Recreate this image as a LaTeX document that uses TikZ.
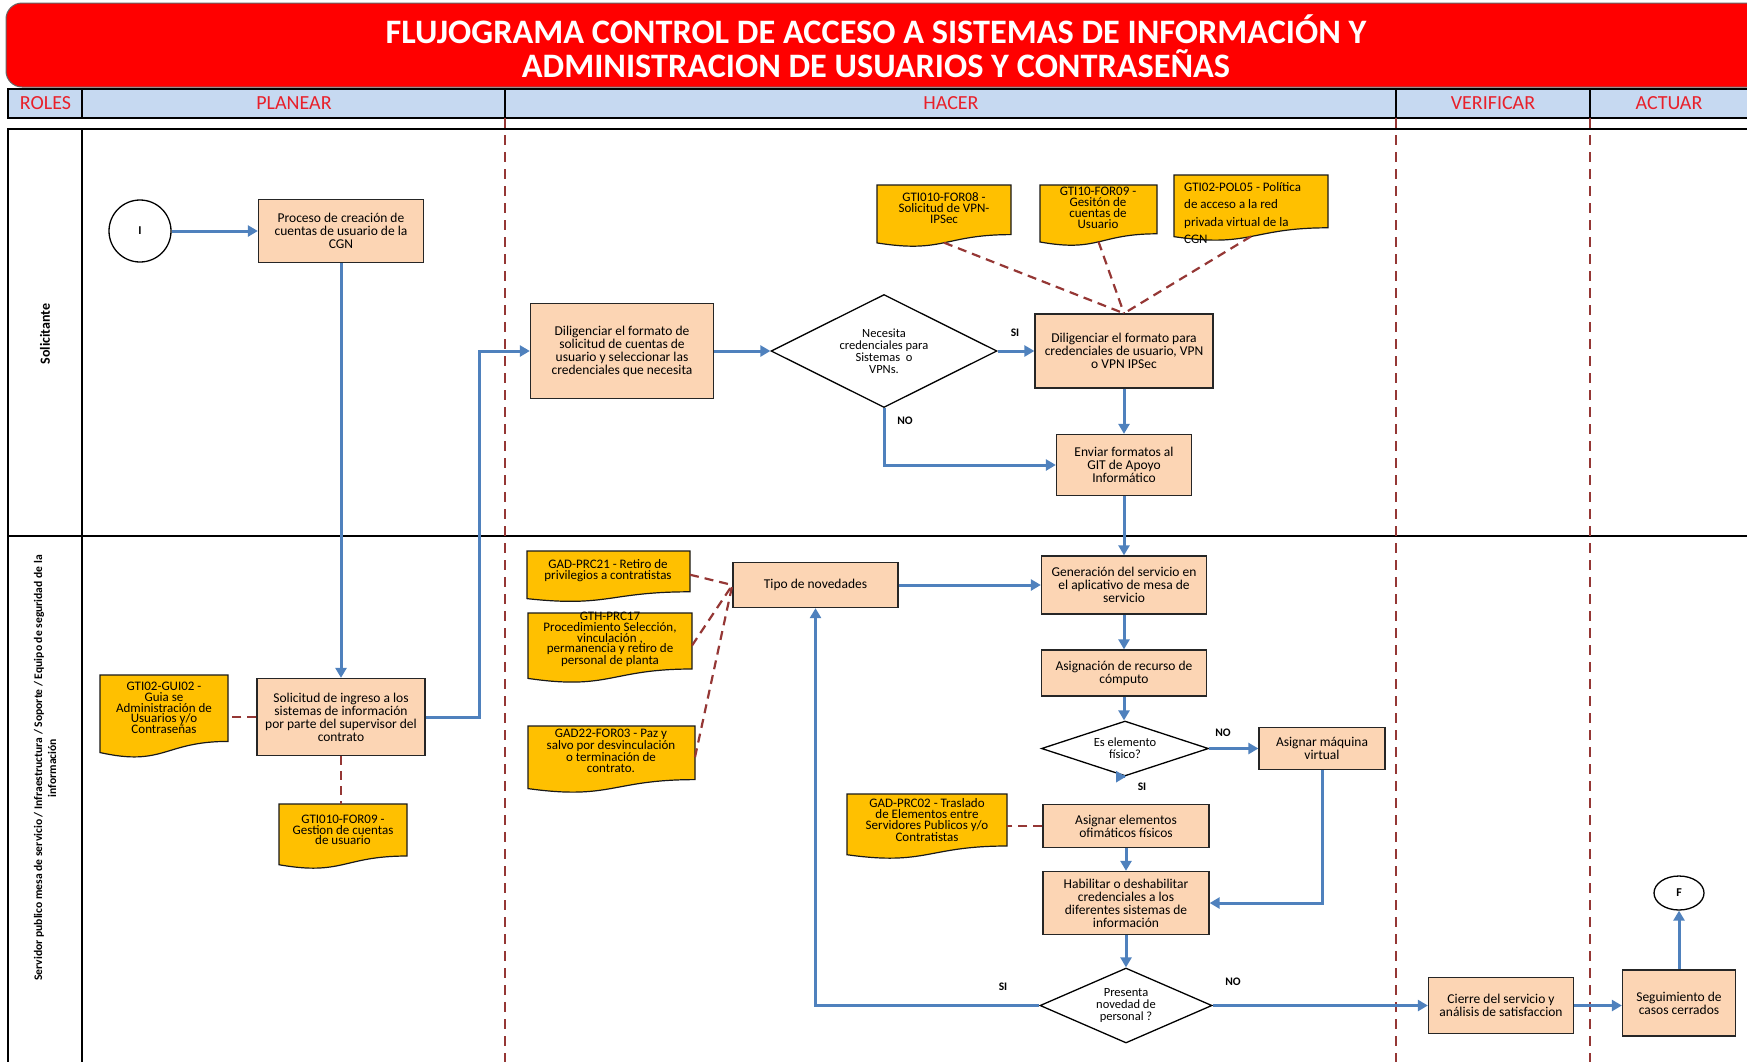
\documentclass[tikz,border=0pt]{standalone}
\usepackage{fontspec}
\setmainfont{Carlito}
\usetikzlibrary{arrows.meta,shapes.geometric}

\definecolor{peach}{HTML}{FCD5B4}
\definecolor{docyel}{HTML}{FFC000}
\definecolor{flowblue}{HTML}{4F81BD}
\definecolor{dred}{HTML}{953735}
\definecolor{hdrblue}{HTML}{C6D9F1}
\definecolor{titlered}{HTML}{FF0000}
\definecolor{hdrtext}{HTML}{E8202A}

\tikzset{
  procbox/.style={draw=black!85, line width=1.3pt, fill=peach, align=center,
    font=\fontsize{13.5}{13}\selectfont, inner sep=1pt},
  decision/.style={diamond, draw=black, line width=1.3pt, fill=white, align=center,
    inner sep=0pt, font=\fontsize{12.5}{12}\selectfont},
  flow/.style={draw=flowblue, line width=3pt, -{Triangle[length=10pt,width=11pt]}},
  link/.style={draw=dred, line width=2.2pt, dash pattern=on 9pt off 6pt},
  phase/.style={draw=dred, line width=2pt, dash pattern=on 10pt off 7pt},
  docfill/.style={fill=docyel, draw=black!90, line width=1.2pt},
  doctext/.style={align=center, font=\fontsize{13}{10.8}\selectfont, inner sep=0pt},
  lbl/.style={font=\bfseries\fontsize{11.5}{12}\selectfont, inner sep=0pt},
  hdr/.style={text=hdrtext, font=\fontsize{20}{22}\selectfont, inner sep=0pt},
  terminal/.style={draw=black, line width=1.3pt, fill=white, font=\bfseries\fontsize{12}{12}\selectfont},
}

% #1 name, #2 x0, #3 y0, #4 x1, #5 y1
\newcommand{\DocShape}[5]{%
  \path[docfill] (#2,#3) -- (#4,#3) -- (#4,{#3+0.8*(#5-#3)})
    .. controls ({0.5*(#2+#4)},{#3+0.8*(#5-#3)}) and ({0.5*(#2+#4)},{#3+1.107*(#5-#3)})
    .. (#2,{#3+0.934*(#5-#3)}) -- cycle;
  \node[inner sep=0pt, outer sep=0pt, minimum width={#4-#2},
    minimum height={0.93*(#5-#3)}, anchor=north west] (#1) at (#2,#3) {};
}

\begin{document}
\begin{tikzpicture}[x=1pt,y=-1pt]
\useasboundingbox (0,0) rectangle (1747,1061);

% ---------- title ----------
\filldraw[fill=titlered, draw=black!60, line width=1pt, rounded corners=16pt] (6,3) rectangle (1780,87);
\node[text=white, align=center, font=\bfseries\fontsize{34.3}{34.5}\selectfont] (title) at (876,46)
  {FLUJOGRAMA CONTROL DE ACCESO A SISTEMAS DE INFORMACIÓN Y\\ADMINISTRACION DE USUARIOS Y CONTRASEÑAS};

% ---------- header ----------
\fill[hdrblue] (8,89) rectangle (1760,118);
\draw[line width=1.6pt] (1760,89) -- (8,89) -- (8,118) -- (1760,118);
\foreach \x in {82,505,1396,1590} \draw[line width=1.3pt] (\x,89) -- (\x,118);
\node[hdr] (hRoles) at (45.5,103.5) {ROLES};
\node[hdr] (hPlan) at (294,103.5) {PLANEAR};
\node[hdr] (hHacer) at (951,103.5) {HACER};
\node[hdr] (hVer) at (1493,103.5) {VERIFICAR};
\node[hdr] (hAct) at (1669,103.5) {ACTUAR};

% ---------- lanes ----------
\draw[line width=2pt] (1760,129) -- (8,129) -- (8,1075);
\draw[line width=2pt] (82,129) -- (82,1075);
\draw[line width=2pt] (8,536) -- (1760,536);
\foreach \x in {505,1396,1590} \draw[phase] (\x,118) -- (\x,1075);

\node[rotate=90, font=\bfseries\fontsize{14}{14}\selectfont] (role1) at (45,334) {Solicitante};
\node[rotate=90, align=center, font=\bfseries\fontsize{11.6}{14}\selectfont] (role2) at (45,768)
  {Servidor publico mesa de servicio / Infraestructura / Soporte / Equipo de seguridad de la\\información};

% ---------- documents ----------
\DocShape{dFORa}{877}{185}{1011}{247}
\node[doctext] (tFORa) at (944,208) {GTI010-FOR08 -\\Solicitud de VPN-\\IPSec};
\DocShape{dFORb}{1040}{185}{1157}{246}
\node[doctext] (tFORb) at (1098,208) {GTI10-FOR09 -\\Gesitón de\\cuentas de\\Usuario};
\DocShape{dPOL}{1174}{175}{1328}{241}
\node[doctext, align=left, anchor=west, font=\fontsize{13}{17.5}\selectfont] (tPOL) at (1184,213)
  {GTI02-POL05 - Política\\de acceso a la red\\privada virtual de la\\CGN};
\DocShape{dPRCa}{527}{551}{690}{602}
\node[doctext] (tPRCa) at (608,570.5) {GAD-PRC21 - Retiro de\\privilegios a contratistas};
\DocShape{dPRCb}{528}{613}{692}{683}
\node[doctext] (tPRCb) at (610,639.5) {GTH-PRC17\\Procedimiento Selección,\\vinculación ,\\permanencia y retiro de\\personal de planta};
\DocShape{dFORc}{528}{726}{695}{793}
\node[doctext] (tFORc) at (611,751) {GAD22-FOR03 - Paz y\\salvo por desvinculación\\o terminación de\\contrato.};
\DocShape{dGUI}{100}{675}{228}{758}
\node[doctext] (tGUI) at (164,708) {GTI02-GUI02 -\\Guia se\\Administración de\\Usuarios y/o\\Contraseñas};
\DocShape{dFORd}{279}{804}{407}{869}
\node[doctext] (tFORd) at (343,830) {GTI010-FOR09 -\\Gestion de cuentas\\de usuario};
\DocShape{dPRCc}{847}{794}{1007}{859}
\node[doctext] (tPRCc) at (927,820) {GAD-PRC02 - Traslado\\de Elementos entre\\Servidores Publicos y/o\\Contratistas};

% ---------- process nodes ----------
\node[terminal, circle, minimum size=62pt] (ini) at (140,231) {I};
\node[procbox, minimum width=165pt, minimum height=63pt] (proc) at (341,231)
  {Proceso de creación de\\cuentas de usuario de la\\CGN};
\node[procbox, minimum width=168pt, minimum height=77pt] (solic) at (341,717)
  {Solicitud de ingreso a los\\sistemas de información\\por parte del supervisor del\\contrato};
\node[procbox, minimum width=183pt, minimum height=95pt] (dilig) at (622,351)
  {Diligenciar el formato de\\solicitud de cuentas de\\usuario y seleccionar las\\credenciales que necesita};
\node[decision, aspect=2, minimum width=226pt, minimum height=113pt] (nec) at (884,351)
  {Necesita\\credenciales para\\Sistemas~ o\\VPNs.};
\node[procbox, minimum width=178pt, minimum height=74pt] (para) at (1124,351)
  {Diligenciar el formato para\\credenciales de usuario, VPN\\o VPN IPSec};
\node[procbox, minimum width=135pt, minimum height=61pt] (env) at (1124,465)
  {Enviar formatos al\\GIT de Apoyo\\Informático};
\node[procbox, minimum width=165pt, minimum height=45pt] (tipo) at (815.5,585)
  {Tipo de novedades};
\node[procbox, minimum width=165pt, minimum height=58pt] (gen) at (1124,585)
  {Generación del servicio en\\el aplicativo de mesa de\\servicio};
\node[procbox, minimum width=165pt, minimum height=46pt] (asig) at (1124,673)
  {Asignación de recurso de\\cómputo};
\node[decision, aspect=3, minimum width=167pt, minimum height=55pt] (esel) at (1125,748.5)
  {Es elemento\\físico?};
\node[procbox, minimum width=126pt, minimum height=42pt] (maq) at (1322,748.5)
  {Asignar máquina\\virtual};
\node[procbox, minimum width=166pt, minimum height=43pt] (elem) at (1126,826)
  {Asignar elementos\\ofimáticos físicos};
\node[procbox, minimum width=166pt, minimum height=63pt] (habil) at (1126,903)
  {Habilitar o deshabilitar\\credenciales a los\\diferentes sistemas de\\información};
\node[decision, aspect=2.3, minimum width=172pt, minimum height=75pt] (pres) at (1126,1005.5)
  {Presenta\\novedad de\\personal ?};
\node[procbox, minimum width=145pt, minimum height=56pt] (cierre) at (1501,1005.5)
  {Cierre del servicio y\\análisis de satisfaccion};
\node[procbox, minimum width=113pt, minimum height=66pt] (seg) at (1679,1003)
  {Seguimiento de\\casos cerrados};
\node[terminal, ellipse, minimum width=50pt, minimum height=34pt, inner sep=0pt] (fin) at (1679,893) {F};

% ---------- labels ----------
\node[lbl] (lSI1) at (1015,333) {SI};
\node[lbl] (lNO1) at (905,421) {NO};
\node[lbl] (lNO2) at (1223,733) {NO};
\node[lbl] (lSI2) at (1142,787) {SI};
\node[lbl] (lSI3) at (1003,987) {SI};
\node[lbl] (lNO3) at (1233,982) {NO};

% ---------- flow connectors ----------
\draw[flow] (ini) -- (proc);
\draw[flow] (proc.south) -- (solic.north);
\draw[flow] (solic.east) -- ++(54,0) |- (dilig.west);
\draw[flow] (dilig.east) -- (nec.west);
\draw[flow] (nec.east) -- (para.west);
\draw[flow] (nec.south) |- (env.west);
\draw[flow] (para.south) -- (env.north);
\draw[flow] (env.south) -- (gen.north);
\draw[flow] (tipo.east) -- (gen.west);
\draw[flow] (gen.south) -- (asig.north);
\draw[flow] (asig.south) -- (asig.south |- esel.north);
\draw[flow] (esel.east) -- (maq.west);
\draw[flow] (esel.south) -- (esel.south -| elem.north);
\draw[flow] (elem.south) -- (habil.north);
\draw[flow] (maq.south) |- (habil.east);
\draw[flow] (habil.south) -- (pres.north);
\draw[flow] (pres.west) -| (tipo.south);
\draw[flow] (pres.east) -- (cierre.west);
\draw[flow] (cierre.east) -- (cierre.east -| seg.west);
\draw[flow] (seg.north) -- (fin.south);

% ---------- document links ----------
\draw[link] (dFORa.south) -- (para.north);
\draw[link] (dFORb.south) -- (para.north);
\draw[link] (dPOL.south) -- (para.north);
\draw[link] (dPRCa.east) -- (tipo.west);
\draw[link] (dPRCb.east) -- (tipo.west);
\draw[link] (dFORc.east) -- (tipo.west);
\draw[link] (solic.west) -- (solic.west -| dGUI.east);
\draw[link] (solic.south) -- (solic.south |- dFORd.north);
\draw[link] (elem.west) -- (elem.west -| dPRCc.east);
\end{tikzpicture}
\end{document}
